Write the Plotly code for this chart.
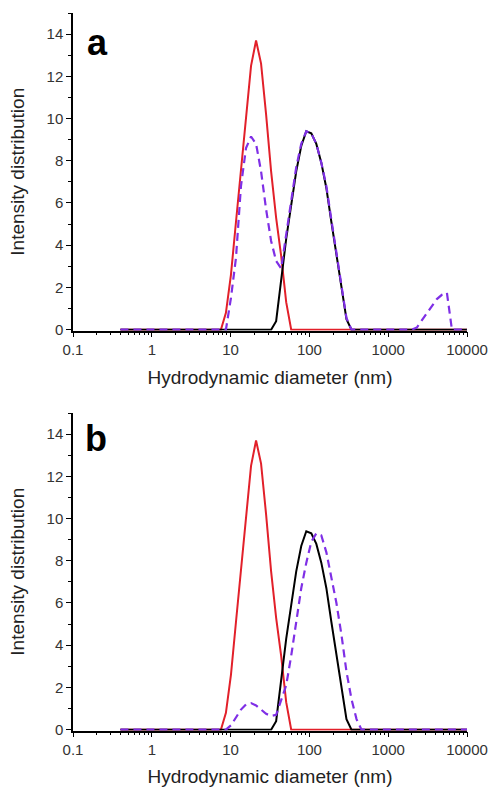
import plotly.graph_objects as go
from plotly.subplots import make_subplots

# Size bins (nm)
diameter_nm = [0.4, 0.4632, 0.5365, 0.6213, 0.7195, 0.8332, 0.9649, 1.117, 1.294, 1.499,
               1.736, 2.010, 2.328, 2.696, 3.122, 3.615, 4.187, 4.849, 5.615, 6.503,
               7.531, 8.721, 10.10, 11.70, 13.54, 15.69, 18.17, 21.04, 24.36, 28.21,
               32.67, 37.84, 43.82, 50.75, 58.77, 68.06, 78.82, 91.28, 105.7, 122.4,
               141.8, 164.2, 190.1, 220.2, 255.0, 295.3, 342.0, 396.1, 458.7, 531.2,
               615.1, 712.4, 825.0, 955.4, 1106, 1281, 1484, 1718, 1990, 2305,
               2669, 3091, 3580, 4145, 4801, 5560, 6439, 7456, 8635, 10000]

Z20 = [0] * 20

# red series (same in both panels)
red_vals = Z20 + [0, 0.8, 2.6, 5.1, 7.6, 10.0, 12.5, 13.7, 12.6, 10.2,
                  7.5, 5.3, 3.5, 1.3, 0, 0, 0, 0, 0, 0,
                  0, 0, 0, 0, 0, 0, 0, 0, 0, 0] + [0] * 20

# black series (same in both panels)
black_vals = Z20 + [0, 0, 0, 0, 0, 0, 0, 0, 0, 0,
                    0, 0.4, 2.3, 4.3, 5.9, 7.5, 8.7, 9.4, 9.3, 8.8,
                    7.9, 6.7, 5.1, 3.6, 1.95, 0.5, 0, 0, 0, 0] + [0] * 20

# purple dashed, panel a
purple_a = Z20 + [0, 0, 1.5, 3.4, 6.8, 8.6, 9.15, 8.8, 7.5, 5.7,
                  4.2, 3.25, 2.9, 4.5, 6.2, 7.7, 8.8, 9.4, 9.3, 8.8,
                  7.9, 6.8, 5.2, 3.6, 2.0, 0.55, 0, 0, 0, 0] + \
           [0, 0, 0, 0, 0, 0, 0, 0, 0, 0.1,
            0.45, 0.8, 1.15, 1.45, 1.65, 1.75, 0, 0, 0, 0]

# purple dashed, panel b
purple_b = Z20 + [0, 0, 0.2, 0.6, 0.95, 1.2, 1.26, 1.15, 0.95, 0.75,
                  0.65, 0.7, 1.4, 2.1, 3.5, 5.1, 6.7, 7.9, 8.9, 9.3,
                  9.2, 8.4, 7.2, 6.0, 4.5, 2.75, 1.45, 0.5, 0, 0] + [0] * 20

xtick_vals = [0.1, 1, 10, 100, 1000, 10000]
xtick_text = ["0.1", "1", "10", "100", "1000", "10000"]
ytick_vals = [0, 2, 4, 6, 8, 10, 12, 14]

RED = "#e2202a"
PURPLE = "#7f2fe6"

fig = make_subplots(rows=2, cols=1)

for row, purple in ((1, purple_a), (2, purple_b)):
    fig.add_trace(go.Scatter(x=diameter_nm, y=red_vals, mode="lines",
                             line=dict(color=RED, width=2), showlegend=False), row=row, col=1)
    fig.add_trace(go.Scatter(x=diameter_nm, y=black_vals, mode="lines",
                             line=dict(color="#000000", width=2), showlegend=False), row=row, col=1)
    fig.add_trace(go.Scatter(x=diameter_nm, y=purple, mode="lines",
                             line=dict(color=PURPLE, width=2.2, dash="8px,5px"), showlegend=False),
                  row=row, col=1)

FONT = "Liberation Sans, Arial, sans-serif"
axis_font = dict(family=FONT, size=15, color="#333333")
title_font = dict(family=FONT, size=19, color="#222222")

W, H = 491.0, 787.0
domains = {1: [(H - 330.5) / H, (H - 13) / H], 2: [(H - 730.5) / H, (H - 413) / H]}

for row in (1, 2):
    fig.update_xaxes(type="log", range=[-1, 4], tickmode="array",
                     tickvals=xtick_vals, ticktext=xtick_text,
                     ticks="outside", ticklen=5, tickwidth=1.3, tickcolor="#000",
                     minor=dict(dtick="D1", ticks="outside", ticklen=3, tickwidth=1, tickcolor="#000",
                                showgrid=False),
                     showline=True, linecolor="#000", linewidth=1.5,
                     showgrid=False, zeroline=False, layer="below traces",
                     tickfont=axis_font, automargin=False,
                     title=dict(text="Hydrodynamic diameter (nm)", font=title_font, standoff=13),
                     row=row, col=1)
    fig.update_yaxes(range=[-0.04, 15], tickmode="array", tickvals=ytick_vals,
                     ticks="outside", ticklen=5, tickwidth=1.3, tickcolor="#000",
                     minor=dict(dtick=1, tick0=0, ticks="outside", ticklen=3, tickwidth=1,
                                tickcolor="#000", showgrid=False),
                     showline=True, linecolor="#000", linewidth=1.5,
                     showgrid=False, zeroline=False, layer="below traces",
                     tickfont=axis_font, automargin=False,
                     title=dict(text="Intensity distribution", font=title_font, standoff=17),
                     domain=domains[row], row=row, col=1)

fig.add_annotation(text="<b>a</b>", xref="paper", yref="paper", x=0.061, y=(H - 42.5) / H,
                   showarrow=False, xanchor="center", yanchor="middle",
                   font=dict(family=FONT, size=36, color="#000"))
fig.add_annotation(text="<b>b</b>", xref="paper", yref="paper", x=0.059, y=(H - 438.5) / H,
                   showarrow=False, xanchor="center", yanchor="middle",
                   font=dict(family=FONT, size=36, color="#000"))

fig.update_layout(width=int(W), height=int(H), margin=dict(l=73, r=24, t=0, b=0, autoexpand=False),
                  plot_bgcolor="white", paper_bgcolor="white", showlegend=False)

# remove the default 8px page margin so the 491x787 figure fits the window exactly
fig.write_html("out.html",
               config={"displayModeBar": False},
               post_script="document.body.style.margin='0';"
                           "document.documentElement.style.overflow='hidden';")
